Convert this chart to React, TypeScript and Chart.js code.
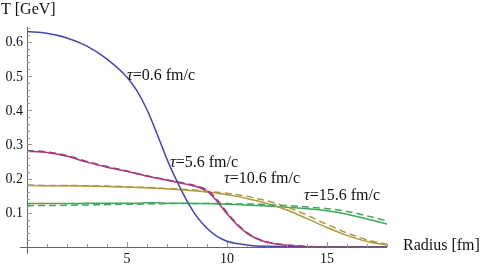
import React, { useEffect, useRef } from "react";
import { Chart, registerables } from "chart.js";

Chart.register(...registerables);

const radius = [0, 1, 2, 3, 4, 5, 5.5, 6, 6.5, 7, 7.5, 8, 8.5, 9, 9.5, 10, 10.5, 11, 11.5, 12, 13, 14, 15, 16, 17, 18];

const tau06 = [0.63, 0.625, 0.611, 0.587, 0.549, 0.496, 0.456, 0.401, 0.331, 0.256, 0.192, 0.135, 0.088, 0.055, 0.031, 0.017, 0.01, 0.006, 0.003, 0.002, 0.001, 0, 0, 0, 0, 0];
const tau56 = [0.28, 0.276, 0.265, 0.248, 0.233, 0.221, 0.214, 0.207, 0.201, 0.195, 0.189, 0.183, 0.176, 0.163, 0.134, 0.097, 0.065, 0.04, 0.024, 0.014, 0.005, 0.001, 0, 0, 0, 0];
const tau56d = [0.282, 0.278, 0.267, 0.25, 0.235, 0.222, 0.215, 0.208, 0.202, 0.196, 0.191, 0.185, 0.178, 0.167, 0.139, 0.101, 0.068, 0.042, 0.025, 0.015, 0.006, 0.002, 0, 0, 0, 0];
const tau106 = [0.18, 0.179, 0.179, 0.178, 0.177, 0.175, 0.174, 0.173, 0.172, 0.17, 0.168, 0.166, 0.164, 0.161, 0.157, 0.153, 0.148, 0.142, 0.135, 0.127, 0.108, 0.083, 0.057, 0.034, 0.016, 0.006];
const tau106d = [0.181, 0.18, 0.18, 0.179, 0.178, 0.176, 0.175, 0.174, 0.173, 0.171, 0.17, 0.168, 0.166, 0.163, 0.16, 0.157, 0.153, 0.148, 0.142, 0.135, 0.117, 0.093, 0.066, 0.041, 0.021, 0.008];
const tau156 = [0.127, 0.127, 0.127, 0.128, 0.128, 0.128, 0.128, 0.129, 0.129, 0.128, 0.128, 0.128, 0.127, 0.127, 0.126, 0.125, 0.124, 0.123, 0.121, 0.12, 0.116, 0.112, 0.106, 0.096, 0.082, 0.067];
const tau156d = [0.121, 0.121, 0.122, 0.123, 0.124, 0.125, 0.125, 0.126, 0.126, 0.127, 0.127, 0.127, 0.127, 0.127, 0.127, 0.127, 0.126, 0.126, 0.125, 0.124, 0.121, 0.117, 0.112, 0.104, 0.091, 0.076];

const xTicks = [5, 10, 15];
const yTicks = [0.1, 0.2, 0.3, 0.4, 0.5, 0.6];

const curveLabels = [
  { text: "0.6 fm/c", r: 5.0, t: 0.5 },
  { text: "5.6 fm/c", r: 7.15, t: 0.247 },
  { text: "10.6 fm/c", r: 9.85, t: 0.2 },
  { text: "15.6 fm/c", r: 13.85, t: 0.15 },
];

const BLUE = "#4646a8";
const PINK = "#a23a80";
const OLIVE = "#ad9a3e";
const GREEN = "#3fa85c";

function pts(ys: number[]) {
  return ys.map((y, i) => ({ x: radius[i], y }));
}

export default function App() {
  const ref = useRef<HTMLCanvasElement | null>(null);
  useEffect(() => {
    if (!ref.current) return;
    const serif = "'Liberation Serif', 'Times New Roman', serif";
    const axesPlugin = {
      id: "mmaAxes",
      afterDraw(chart: any) {
        const ctx = chart.ctx as CanvasRenderingContext2D;
        const xs = chart.scales.x;
        const ys = chart.scales.y;
        const x0 = xs.getPixelForValue(0);
        const x1 = xs.getPixelForValue(18);
        const y0 = ys.getPixelForValue(0);
        const yTop = ys.getPixelForValue(0.643);
        ctx.save();
        ctx.strokeStyle = "#666";
        ctx.lineWidth = 1;
        ctx.beginPath();
        ctx.moveTo(x0 - 7, Math.round(y0) + 0.5);
        ctx.lineTo(x1, Math.round(y0) + 0.5);
        ctx.moveTo(Math.round(x0) + 0.5, y0 + 7);
        ctx.lineTo(Math.round(x0) + 0.5, yTop);
        ctx.stroke();
        ctx.strokeStyle = "#999";
        ctx.beginPath();
        for (let v = 1; v <= 18; v++) {
          const px = Math.round(xs.getPixelForValue(v)) + 0.5;
          const len = v % 5 === 0 ? 5 : 3;
          ctx.moveTo(px, y0);
          ctx.lineTo(px, y0 - len);
        }
        for (let k = 1; k <= 32; k++) {
          const v = k * 0.02;
          const py = Math.round(ys.getPixelForValue(v)) + 0.5;
          const len = k % 5 === 0 ? 5 : 3;
          ctx.moveTo(x0, py);
          ctx.lineTo(x0 + len, py);
        }
        ctx.stroke();
        ctx.fillStyle = "#111";
        ctx.font = "14px " + serif;
        ctx.textAlign = "center";
        ctx.textBaseline = "middle";
        xTicks.forEach((v) => ctx.fillText(String(v), xs.getPixelForValue(v), y0 + 12));
        ctx.textAlign = "right";
        yTicks.forEach((v) => ctx.fillText(v.toFixed(1), x0 - 4, ys.getPixelForValue(v) + 1));
        ctx.font = "16px " + serif;
        ctx.textAlign = "left";
        ctx.fillText("T [GeV]", 1, 10);
        ctx.fillText("Radius [fm]", x1 + 16, y0 - 1);
        curveLabels.forEach((l) => {
          const px = xs.getPixelForValue(l.r);
          const py = ys.getPixelForValue(l.t);
          ctx.font = "italic 16px " + serif;
          ctx.fillText("τ", px, py);
          const w = ctx.measureText("τ").width;
          ctx.font = "16px " + serif;
          ctx.fillText("=" + l.text, px + w, py);
        });
        ctx.restore();
      },
    };
    const mk = (data: number[], color: string, dashed: boolean) => ({
      data: pts(data),
      borderColor: color,
      borderWidth: 1.5,
      borderDash: dashed ? [7, 4] : [],
      pointRadius: 0,
      fill: false,
      cubicInterpolationMode: "monotone" as const,
    });
    const chart = new Chart(ref.current, {
      type: "line",
      data: {
        datasets: [
          mk(tau56d, PINK, true),
          mk(tau106d, OLIVE, true),
          mk(tau156d, GREEN, true),
          mk(tau06, BLUE, false),
          mk(tau56, PINK, false),
          mk(tau106, OLIVE, false),
          mk(tau156, GREEN, false),
        ],
      },
      options: {
        animation: false,
        responsive: false,
        maintainAspectRatio: false,
        layout: { padding: { left: 27, right: 95, top: 27, bottom: 21 } },
        plugins: { legend: { display: false }, tooltip: { enabled: false } },
        scales: {
          x: { type: "linear", min: 0, max: 18, display: false },
          y: { type: "linear", min: 0, max: 0.643, display: false },
        },
      },
      plugins: [axesPlugin],
    });
    return () => chart.destroy();
  }, []);
  return (
    <div style={{ position: "fixed", left: 0, top: 0, width: 482, height: 268, background: "#fff" }}>
      <canvas ref={ref} width={482} height={268} style={{ width: 482, height: 268, display: "block" }} />
    </div>
  );
}
